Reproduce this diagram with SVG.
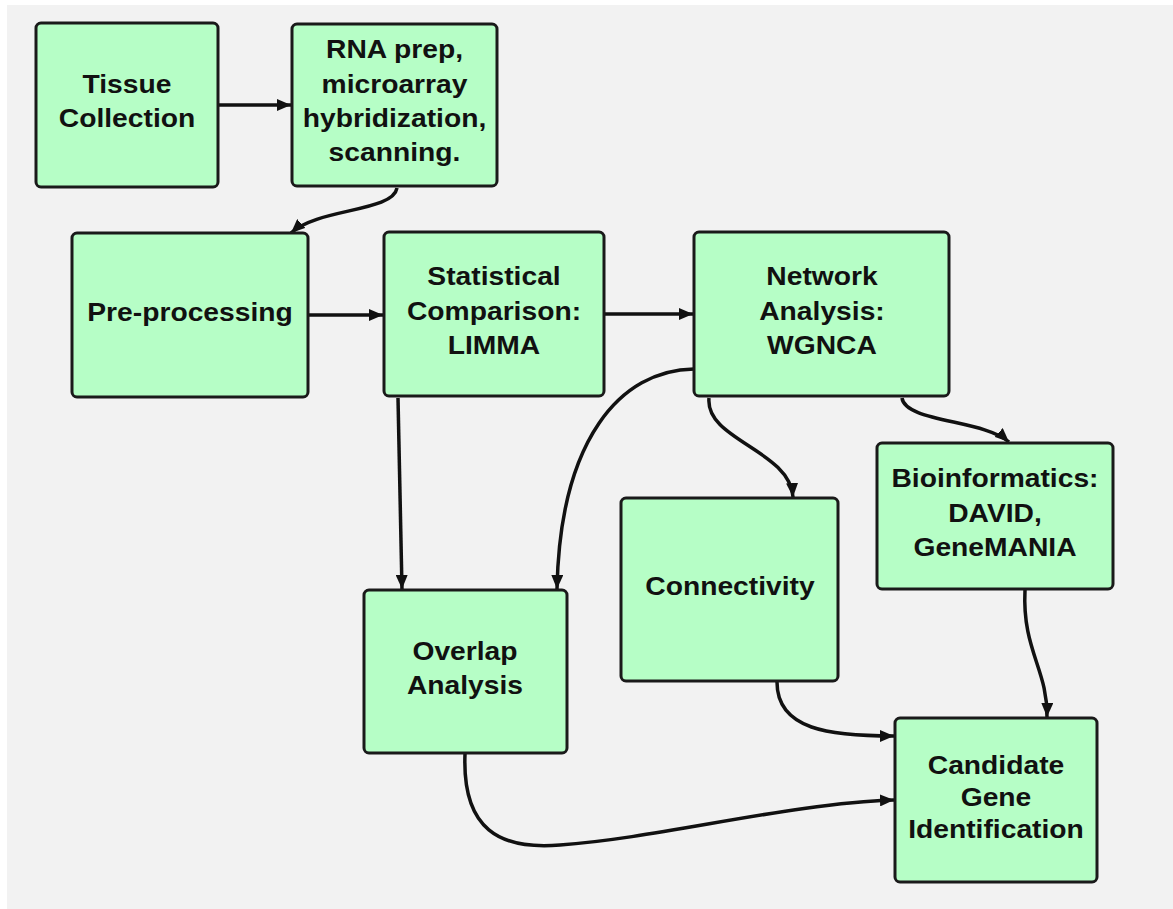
<svg xmlns="http://www.w3.org/2000/svg" width="1173" height="909" viewBox="0 0 1173 909">
<style>
.box{fill:#b6fec6;stroke:#1a1a1a;stroke-width:3}
.lbl{font-family:"Liberation Sans",Arial,sans-serif;font-weight:bold;font-size:25px;fill:#111;text-anchor:middle}
.con{fill:none;stroke:#111;stroke-width:3.5;marker-end:url(#ah)}
</style>
<defs>
<marker id="ah" markerUnits="userSpaceOnUse" markerWidth="15" markerHeight="12" refX="14" refY="6" orient="auto">
<path d="M0,0 L14,6 L0,12 z" fill="#111"/>
</marker>
</defs>
<rect x="0" y="0" width="1173" height="909" fill="#ffffff"/>
<rect x="7" y="5" width="1166" height="904" fill="#f2f2f2"/>

<g id="connectors">
<path class="con" d="M219,105 L291,105"/>
<path class="con" d="M397,188 C393,212 318,208 291,233"/>
<path class="con" d="M309,315 L383,315"/>
<path class="con" d="M605,314 L693,314"/>
<path class="con" d="M398,398 L402,589"/>
<path class="con" d="M694,369 C620,370 560,440 557,589"/>
<path class="con" d="M709,398 C705,440 790,450 793,497"/>
<path class="con" d="M902,398 C905,422 985,420 1009,442"/>
<path class="con" d="M1025,590 C1022,650 1048,670 1047,717"/>
<path class="con" d="M777,682 C777,730 830,736 894,736"/>
<path class="con" d="M465,754 C462,830 500,850 560,845 C660,838 790,803 894,800"/>
</g>

<g id="tissue">
<rect class="box" x="36" y="23" width="182" height="164" rx="5"/>
<g transform="translate(127,0) scale(1.13,1)"><text class="lbl" x="0" y="93">Tissue</text><text class="lbl" x="0" y="127">Collection</text></g>
</g>
<g id="rnaprep">
<rect class="box" x="292" y="24" width="205" height="162" rx="5"/>
<g transform="translate(394.5,0) scale(1.13,1)"><text class="lbl" x="0" y="58">RNA prep,</text><text class="lbl" x="0" y="93">microarray</text><text class="lbl" x="0" y="127">hybridization,</text><text class="lbl" x="0" y="161">scanning.</text></g>
</g>
<g id="preprocessing">
<rect class="box" x="72" y="233" width="236" height="164" rx="5"/>
<g transform="translate(190,0) scale(1.13,1)"><text class="lbl" x="0" y="321">Pre-processing</text></g>
</g>
<g id="statistical">
<rect class="box" x="384" y="232" width="220" height="164" rx="5"/>
<g transform="translate(494,0) scale(1.13,1)"><text class="lbl" x="0" y="285">Statistical</text><text class="lbl" x="0" y="320">Comparison:</text><text class="lbl" x="0" y="354">LIMMA</text></g>
</g>
<g id="network">
<rect class="box" x="694" y="232" width="255" height="164" rx="5"/>
<g transform="translate(822,0) scale(1.13,1)"><text class="lbl" x="0" y="285">Network</text><text class="lbl" x="0" y="320">Analysis:</text><text class="lbl" x="0" y="354">WGNCA</text></g>
</g>
<g id="bioinformatics">
<rect class="box" x="877" y="443" width="236" height="146" rx="5"/>
<g transform="translate(995,0) scale(1.13,1)"><text class="lbl" x="0" y="487">Bioinformatics:</text><text class="lbl" x="0" y="522">DAVID,</text><text class="lbl" x="0" y="556">GeneMANIA</text></g>
</g>
<g id="connectivity">
<rect class="box" x="621" y="498" width="217" height="183" rx="5"/>
<g transform="translate(730,0) scale(1.13,1)"><text class="lbl" x="0" y="595">Connectivity</text></g>
</g>
<g id="overlap">
<rect class="box" x="364" y="590" width="203" height="163" rx="5"/>
<g transform="translate(465,0) scale(1.13,1)"><text class="lbl" x="0" y="660">Overlap</text><text class="lbl" x="0" y="694">Analysis</text></g>
</g>
<g id="candidate">
<rect class="box" x="895" y="718" width="202" height="164" rx="5"/>
<g transform="translate(996,0) scale(1.13,1)"><text class="lbl" x="0" y="774">Candidate</text><text class="lbl" x="0" y="806">Gene</text><text class="lbl" x="0" y="838">Identification</text></g>
</g>
</svg>
